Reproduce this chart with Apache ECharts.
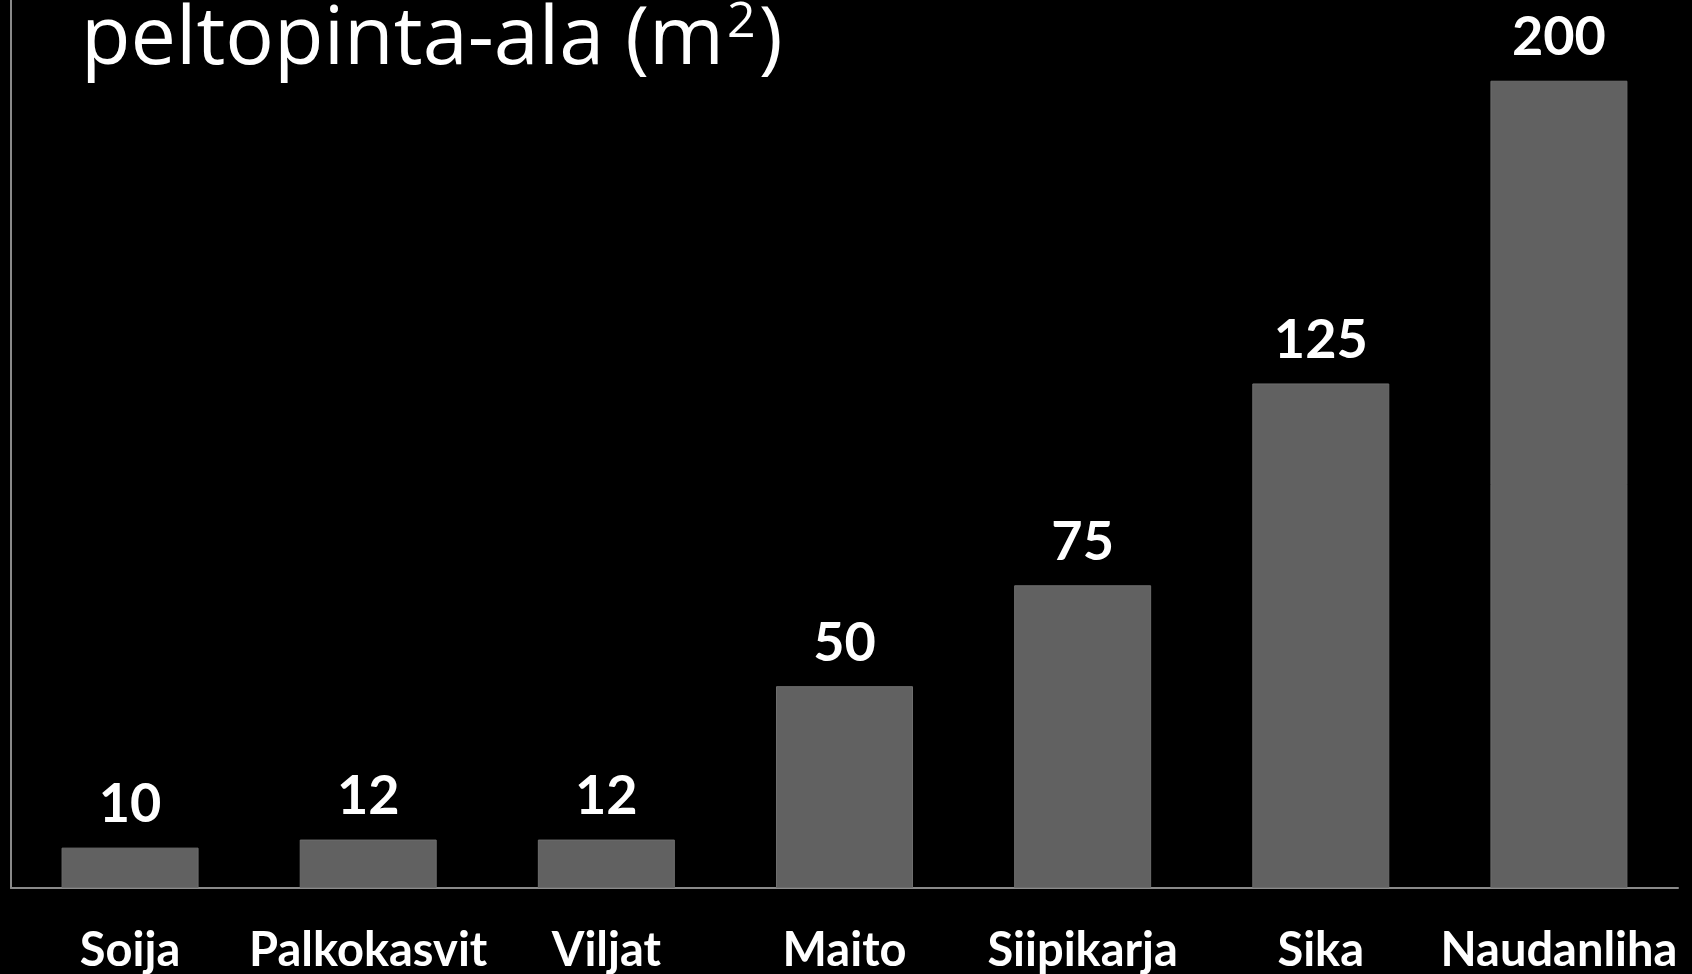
<!DOCTYPE html>
<html>
<head>
<meta charset="utf-8">
<script src="https://cdn.jsdelivr.net/npm/echarts@6/dist/echarts.min.js"></script>
<style>
html,body{margin:0;padding:0;background:#000;}
#chart{width:1692px;height:974px;}
</style>
</head>
<body>
<div id="chart"></div>
<script>
const categories = ['Soija', 'Palkokasvit', 'Viljat', 'Maito', 'Siipikarja', 'Sika', 'Naudanliha'];
const values = [10, 12, 12, 50, 75, 125, 200];
const titleMain = 'peltopinta-ala (m';
const titleSup = '2';
const titleEnd = ')';

const chart = echarts.init(document.getElementById('chart'));
chart.setOption({
  backgroundColor: '#000000',
  animation: false,
  title: {
    text: '{a|' + titleMain + '}{s|' + titleSup + '}{a|' + titleEnd + '}',
    left: 76,
    top: -14,
    textStyle: {
      color: '#ffffff',
      rich: {
        a: { color: '#ffffff', fontFamily: 'Open Sans', fontWeight: 'normal', fontSize: 81, lineHeight: 100 },
        s: { color: '#ffffff', fontFamily: 'Open Sans', fontWeight: 'normal', fontSize: 50, lineHeight: 100, verticalAlign: 'top', padding: [7, 3, 0, 3] }
      }
    }
  },
  grid: { left: 11, right: 14, top: 0, bottom: 86 },
  xAxis: {
    type: 'category',
    data: categories,
    axisLine: { show: true, lineStyle: { color: '#8a8a8a', width: 2 } },
    axisTick: { show: false },
    axisLabel: {
      color: '#ffffff', fontFamily: 'Lato', fontWeight: 'bold', fontSize: 47,
      margin: 39, interval: 0
    }
  },
  yAxis: {
    type: 'value',
    min: 0, max: 220,
    axisLine: { show: true, lineStyle: { color: '#8a8a8a', width: 2 } },
    axisTick: { show: false },
    axisLabel: { show: false },
    splitLine: { show: false }
  },
  series: [{
    type: 'bar',
    data: values,
    barWidth: 137,
    itemStyle: { color: '#616161', borderColor: '#6e6e6e', borderWidth: 1 },
    label: {
      show: true, position: 'top', distance: 16,
      color: '#ffffff', fontFamily: 'Lato', fontWeight: 'bold', fontSize: 54
    }
  }]
});
</script>
</body>
</html>
